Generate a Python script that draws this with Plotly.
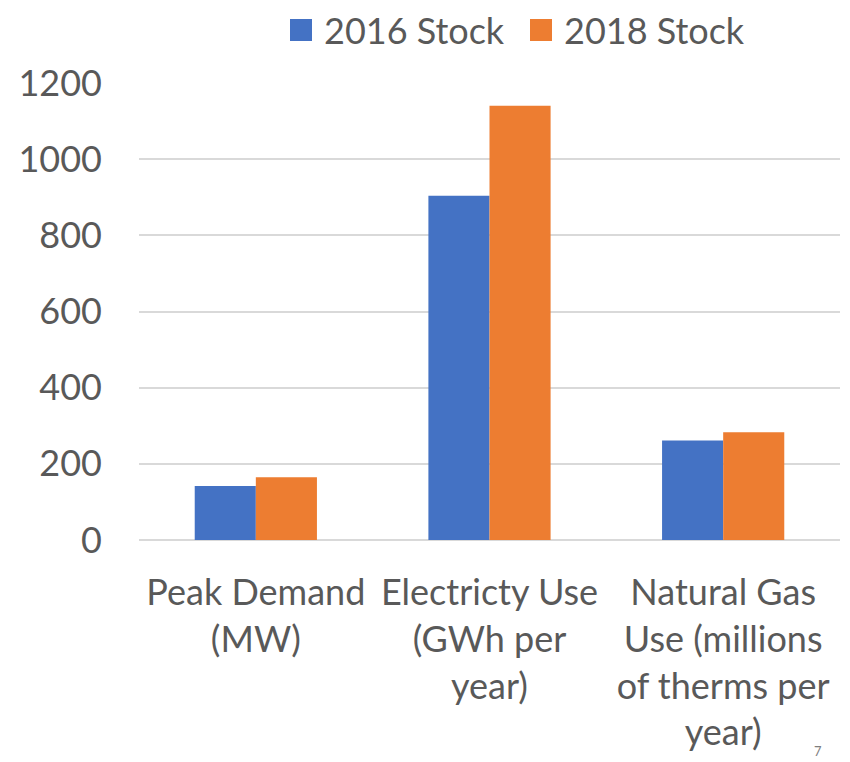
import plotly.graph_objects as go

categories = [
    "Peak Demand<br>(MW)",
    "Electricty Use<br>(GWh per<br>year)",
    "Natural Gas<br>Use (millions<br>of therms per<br>year)",
]
series_names = ["2016 Stock", "2018 Stock"]
stock_2016 = [142, 904, 261]
stock_2018 = [165, 1140, 283]
y_ticks = [0, 200, 400, 600, 800, 1000, 1200]
colors = ["#4472C4", "#ED7D31"]

FONT = "Lato, 'Open Sans', sans-serif"
TEXT = "#595959"
SIZE = 36

# plot area in pixels
L, R, T, B = 139, 10, 83, 222
W, H = 850, 762
pw, ph = W - L - R, H - T - B


def px_x(x):
    return (x - L) / pw


def px_y(y):
    return (H - B - y) / ph


fig = go.Figure()
for name, vals, col in zip(series_names, [stock_2016, stock_2018], colors):
    fig.add_trace(go.Bar(name=name, x=categories, y=vals, showlegend=False,
                         marker=dict(color=col, line=dict(width=0))))

fig.update_layout(
    width=W, height=H,
    margin=dict(l=L, r=R, t=T, b=B, autoexpand=False),
    paper_bgcolor="white", plot_bgcolor="white",
    barmode="group", bargap=0.477, bargroupgap=0,
    font=dict(family=FONT, color=TEXT, size=SIZE),
    xaxis=dict(showgrid=False, showline=False, ticks="", tickfont=dict(size=SIZE, color=TEXT),
               ticklabelstandoff=28, automargin=False),
    yaxis=dict(range=[0, 1200], tickvals=y_ticks, showgrid=True, gridcolor="#d9d9d9",
               gridwidth=1.5, zeroline=True, zerolinecolor="#d9d9d9", zerolinewidth=1.5,
               showline=False, ticks="", tickfont=dict(size=SIZE, color=TEXT),
               ticklabelstandoff=36, automargin=False),
)

# legend: coloured squares with series names
legend_items = [(290, 322), (530, 562)]
for (sq_x, tx_x), name, col in zip(legend_items, series_names, colors):
    fig.add_shape(type="rect", xref="paper", yref="paper",
                  x0=px_x(sq_x), x1=px_x(sq_x + 22), y0=px_y(41), y1=px_y(19),
                  fillcolor=col, line=dict(width=0))
    fig.add_annotation(text=name, xref="paper", yref="paper", x=px_x(tx_x), y=px_y(30),
                       xanchor="left", yanchor="middle", showarrow=False,
                       font=dict(size=SIZE, color=TEXT, family=FONT))

fig.add_annotation(text="7", xref="paper", yref="paper", x=px_x(818),
                   y=px_y(751), xanchor="center", yanchor="middle",
                   showarrow=False, font=dict(size=13, color="#7f7f7f", family=FONT))

fig.write_html("out.html")
